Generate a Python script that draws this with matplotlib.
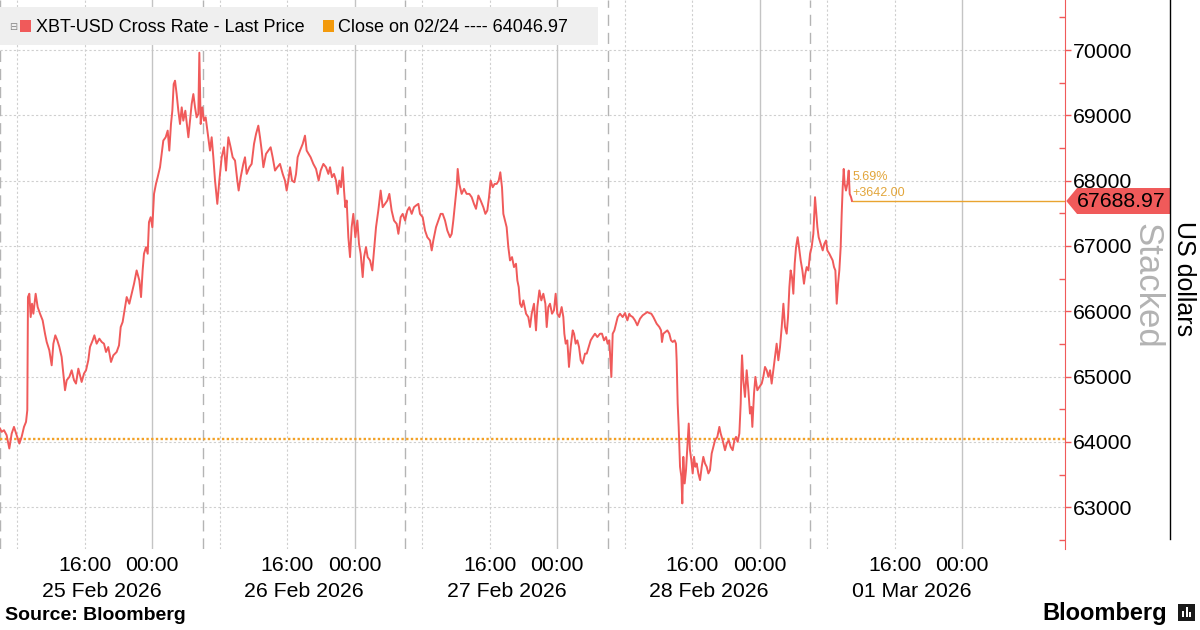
import matplotlib
matplotlib.use('Agg')
import matplotlib.pyplot as plt
import matplotlib.dates as mdates
import matplotlib.transforms as mtransforms
from matplotlib.patches import Polygon, Rectangle
from matplotlib.lines import Line2D
import numpy as np
import pandas as pd

plt.rcParams['font.family'] = ['Liberation Sans', 'DejaVu Sans']

# --- data: XBT-USD last price, hours counted from 25 Feb 2026 00:00 ---
START = pd.Timestamp('2026-02-25 00:00')

# 25 Feb morning -> 26 Feb early
seg1_hours = [5.99, 6.18, 6.46, 6.77, 7.09, 7.37, 7.64, 7.96, 8.28, 8.55,
              8.83, 9.07, 9.22, 9.30, 9.46, 9.62, 9.78, 9.94, 10.21, 10.45,
              10.73, 11.04, 11.32, 11.52, 11.83, 12.11, 12.31, 12.54, 12.78, 13.02,
              13.29, 13.69, 13.89, 14.20, 14.48, 14.76, 14.99, 15.27, 15.47, 15.66,
              15.94, 16.18, 16.45, 16.65, 16.97, 17.17, 17.44, 17.76, 18.04, 18.31,
              18.55, 18.82, 19.14, 19.42, 19.81, 20.09, 20.29, 20.52, 20.80, 21.00,
              21.31, 21.59, 21.87, 22.18, 22.50, 22.70, 22.89, 23.05, 23.29, 23.49,
              23.64, 23.84, 24.04, 24.24, 24.47, 24.67, 24.95, 25.14, 25.34, 25.62,
              25.86, 26.05, 26.25, 26.41, 26.57, 26.73, 26.92, 27.12, 27.32, 27.52,
              27.71, 27.95, 28.11, 28.31, 28.50, 28.70, 28.90, 29.10, 29.29, 29.49,
              29.61, 29.77, 29.96, 30.16, 30.36, 30.56, 30.87]
seg1_price = [64205, 64154, 64179, 64103, 63899, 64128, 64230, 64103, 63975, 64077,
              64230, 64307, 64485, 66218, 66269, 65912, 66116, 65963, 66269, 66065,
              65963, 65861, 65657, 65530, 65403, 65173, 65504, 65632, 65555, 65453,
              65301, 64791, 64944, 64995, 65097, 64944, 64893, 65122, 65020, 64918,
              65046, 65097, 65250, 65453, 65555, 65632, 65504, 65581, 65530, 65504,
              65377, 65453, 65224, 65326, 65377, 65479, 65759, 65836, 66065, 66218,
              66116, 66269, 66422, 66626, 66473, 66218, 66626, 66881, 66983, 66881,
              67365, 67441, 67288, 67798, 67951, 68053, 68206, 68410, 68614, 68665,
              68767, 68461, 68868, 69072, 69480, 69531, 69327, 69072, 68868, 69123,
              68919, 69072, 68894, 68665, 68919, 69174, 69327, 69123, 68970, 69021,
              69960, 68868, 69123, 68919, 68970, 68767, 68461]

# 26 Feb -> 27 Feb early
seg2_hours = [31.07, 31.27, 31.47, 31.74, 31.98, 32.26, 32.53, 32.77, 33.05, 33.32,
              33.56, 33.84, 34.11, 34.27, 34.51, 34.82, 35.02, 35.22, 35.54, 35.81,
              36.09, 36.33, 36.60, 36.80, 37.00, 37.20, 37.51, 37.79, 38.06, 38.30,
              38.58, 38.85, 39.17, 39.49, 39.76, 39.96, 40.16, 40.36, 40.59, 40.87,
              41.07, 41.26, 41.54, 41.86, 42.13, 42.33, 42.57, 42.80, 43.12, 43.44,
              43.75, 43.99, 44.31, 44.62, 44.90, 45.10, 45.33, 45.57, 45.81, 46.01,
              46.20, 46.40, 46.60, 46.76, 46.91, 47.07, 47.27, 47.47, 47.66, 47.86,
              48.10, 48.34, 48.53, 48.73, 48.97, 49.13, 49.36, 49.56, 49.84, 50.11,
              50.31, 50.55, 50.82, 51.10, 51.34, 51.62, 51.89, 52.13, 52.40, 52.68,
              53.00, 53.20, 53.47, 53.71, 53.99, 54.26, 54.50, 54.78, 55.05, 55.29,
              55.57]
seg2_price = [68665, 68359, 68002, 67645, 68002, 68359, 68512, 68155, 68665, 68512,
              68359, 68308, 68002, 67849, 68053, 68257, 68359, 68104, 68206, 68257,
              68563, 68716, 68843, 68665, 68461, 68206, 68410, 68461, 68512, 68359,
              68155, 68206, 68257, 68104, 68002, 67849, 68002, 68206, 68002, 67976,
              68104, 68359, 68461, 68563, 68690, 68461, 68410, 68359, 68257, 68180,
              68002, 68155, 68257, 68206, 68104, 68206, 68053, 68104, 68002, 67798,
              68002, 67900, 68206, 67849, 67594, 67696, 67135, 66830, 67288, 67492,
              67135, 67390, 67033, 66881, 66524, 66830, 66983, 66830, 66779, 66626,
              66932, 67288, 67543, 67849, 67594, 67645, 67696, 67798, 67543, 67390,
              67339, 67186, 67441, 67492, 67390, 67543, 67594, 67492, 67594, 67620,
              67645]

# 27 Feb -> 28 Feb early
seg3_hours = [55.76, 56.08, 56.36, 56.63, 56.95, 57.15, 57.34, 57.66, 57.94, 58.21,
              58.45, 58.73, 59.00, 59.32, 59.52, 59.71, 59.91, 60.11, 60.23, 60.42,
              60.70, 60.98, 61.29, 61.61, 61.89, 62.16, 62.40, 62.68, 62.95, 63.27,
              63.51, 63.74, 63.94, 64.14, 64.38, 64.61, 64.85, 65.09, 65.28, 65.48,
              65.64, 65.84, 66.03, 66.23, 66.43, 66.67, 66.90, 67.14, 67.30, 67.46,
              67.62, 67.81, 68.01, 68.33, 68.60, 68.80, 69.00, 69.27, 69.51, 69.67,
              69.91, 70.14, 70.38, 70.62, 70.78, 70.97, 71.17, 71.41, 71.64, 71.84,
              72.04, 72.28, 72.55, 72.75, 72.87, 73.03, 73.22, 73.42, 73.62, 73.86,
              74.02, 74.21, 74.41, 74.61, 74.81, 75.04, 75.32, 75.52, 75.75, 75.99,
              76.23, 76.50, 76.78, 77.10, 77.33, 77.57, 77.81, 78.00, 78.20, 78.44,
              78.60, 78.80, 78.99, 79.19, 79.47, 79.78, 80.06, 80.34, 80.57]
seg3_price = [67492, 67441, 67237, 67135, 67084, 66932, 67084, 67288, 67390, 67492,
              67492, 67390, 67237, 67135, 67186, 67390, 67645, 67900, 68180, 67951,
              67798, 67875, 67798, 67798, 67747, 67645, 67569, 67773, 67696, 67594,
              67492, 67543, 67747, 68002, 67900, 67951, 67951, 68002, 68129, 67900,
              67492, 67390, 67288, 66983, 66779, 66830, 66677, 66728, 66473, 66371,
              66116, 66065, 66167, 65963, 65912, 65759, 65963, 66116, 65708, 66065,
              66320, 66167, 66269, 66116, 65759, 66065, 66116, 65963, 66014, 66269,
              65963, 65912, 66065, 65912, 65657, 65504, 65555, 65148, 65453, 65708,
              65657, 65504, 65555, 65453, 65250, 65199, 65352, 65352, 65453, 65555,
              65606, 65657, 65606, 65657, 65657, 65555, 65606, 65504, 65555, 64995,
              65657, 65708, 65810, 65912, 65963, 65912, 65973, 65861, 65963]

# 28 Feb -> 01 Mar morning
seg4_hours = [80.65, 80.97, 81.24, 81.52, 81.84, 82.15, 82.43, 82.71, 82.94, 83.18,
              83.42, 83.62, 83.81, 84.13, 84.33, 84.44, 84.60, 84.84, 85.08, 85.31,
              85.51, 85.71, 85.95, 86.10, 86.18, 86.30, 86.42, 86.58, 86.74, 86.85,
              86.97, 87.13, 87.29, 87.45, 87.61, 87.76, 87.92, 88.08, 88.24, 88.40,
              88.55, 88.75, 88.95, 89.15, 89.34, 89.54, 89.74, 89.94, 90.13, 90.33,
              90.53, 90.73, 91.00, 91.24, 91.40, 91.63, 91.91, 92.11, 92.35, 92.58,
              92.82, 93.02, 93.22, 93.41, 93.61, 93.77, 93.85, 93.93, 94.08, 94.28,
              94.48, 94.68, 94.87, 95.03, 95.15, 95.35, 95.51, 95.74, 95.98, 96.26,
              96.45, 96.65, 96.85, 97.05, 97.25, 97.44, 97.64, 97.88, 98.03, 98.23,
              98.43, 98.63, 98.83, 99.02, 99.22, 99.38, 99.54, 99.69, 99.85, 100.01,
              100.17, 100.33, 100.52, 100.68, 100.88, 101.08, 101.27, 101.43, 101.59, 101.79,
              101.99, 102.18, 102.38, 102.58, 102.70, 102.86, 103.01, 103.25, 103.49, 103.68,
              103.88, 104.04, 104.28, 104.47, 104.67, 104.83, 104.99, 105.15, 105.31, 105.46,
              105.62, 105.74, 105.86, 105.98, 106.09, 106.25, 106.41, 106.57, 106.69, 106.85,
              106.96]
seg4_price = [65938, 65912, 65861, 65785, 65887, 65938, 65963, 65989, 65973, 65963,
              65912, 65861, 65810, 65759, 65708, 65530, 65657, 65683, 65708, 65657,
              65555, 65530, 65555, 65504, 65250, 64587, 64230, 63619, 63466, 63058,
              63771, 63364, 63568, 63924, 64281, 63873, 63720, 63517, 63771, 63619,
              63670, 63517, 63415, 63619, 63771, 63670, 63619, 63517, 63568, 63822,
              63924, 64026, 64077, 64230, 64128, 64026, 63873, 63975, 64026, 63924,
              63873, 64026, 64077, 64001, 64128, 64587, 65046, 65326, 64944, 64689,
              65097, 64791, 64434, 64536, 64230, 64743, 64995, 64791, 64842, 64893,
              64995, 65148, 65097, 64995, 65097, 64893, 65097, 65352, 65504, 65250,
              65453, 65759, 66116, 65759, 65657, 65912, 66371, 66626, 66524, 66269,
              66728, 66983, 67135, 66983, 66779, 66626, 66422, 66575, 66677, 66626,
              66881, 66983, 67186, 67747, 67543, 67288, 67135, 67033, 66932, 67033,
              67084, 66932, 66881, 66830, 66779, 66677, 66626, 66116, 66422, 66626,
              66983, 67492, 67900, 68180, 67951, 67849, 67951, 68155, 67798, 67747,
              67688.97]

prev_close = 64046.97
series_label = 'XBT-USD Cross Rate - Last Price'
close_label = 'Close on 02/24 ---- 64046.97'
y_ticks = [63000, 64000, 65000, 66000, 67000, 68000, 69000, 70000]

hours = np.concatenate([seg1_hours, seg2_hours, seg3_hours, seg4_hours])
price = np.concatenate([seg1_price, seg2_price, seg3_price, seg4_price])
times = START + pd.to_timedelta(hours, unit='h')

RED = '#f05a5a'
ORANGE = '#f2a127'

W, H = 1200, 630
def fx(px):
    return px / W
def fy(py):
    return 1 - py / H

fig = plt.figure(figsize=(12, 6.3), dpi=100)
ax = fig.add_axes([0, fy(549), fx(1064.7), 549 / H])

x_lo = START + pd.Timedelta(hours=5.985)
x_hi = START + pd.Timedelta(hours=132.17)
ax.set_xlim(x_lo, x_hi)
ax.set_ylim(62360, 70767)

# vertical session grid: 00:00 solid, 06:00 dashed, 08:00/16:00 dotted
for t in pd.date_range('2026-02-25 06:00', '2026-03-02 00:00', freq='h'):
    if t.hour == 0:
        ax.axvline(t, color='#c4c4c4', lw=1.0, zorder=1)
    elif t.hour == 6:
        ax.axvline(t, color='#b4b4b4', lw=1.0, ls=(0, (8, 5)), zorder=1)
    elif t.hour in (8, 16):
        ax.axvline(t, color='#cfcfcf', lw=0.8, ls=(0, (2, 2)), zorder=1)

ax.set_yticks(y_ticks)
ax.set_yticks(np.arange(62500, 70600, 1000), minor=True)
ax.yaxis.grid(True, which='major', color='#cfcfcf', lw=0.8, ls=(0, (2, 2)))
ax.set_axisbelow(True)

ax.axhline(prev_close, color=ORANGE, lw=1.7, ls=(0, (1, 1)), zorder=2)
ax.plot(times, price, color=RED, lw=1.4, zorder=3)

last_t, last_p = times[-1], price[-1]
ax.hlines(last_p, last_t, x_hi, color='#e9a430', lw=1.0, zorder=2)
change = last_p - prev_close
ax.annotate(f'{change / prev_close * 100:.2f}%', xy=(last_t, last_p), xytext=(1, 24),
            textcoords='offset pixels', color='#e2a53a', fontsize=9, va='center', ha='left')
ax.annotate(f'+{change:.2f}', xy=(last_t, last_p), xytext=(0, 8),
            textcoords='offset pixels', color='#e2a53a', fontsize=9, va='center', ha='left')

# price tag on the right axis
blend = mtransforms.blended_transform_factory(ax.transAxes, ax.transData)
hh = 199
tag = Polygon([(1.0015, last_p), (1.0116, last_p + hh), (1.0989, last_p + hh),
               (1.0989, last_p - hh), (1.0116, last_p - hh)], closed=True,
              transform=blend, facecolor=RED, edgecolor='none', clip_on=False, zorder=5)
ax.add_patch(tag)
ax.text(1.0535, last_p, f'{last_p:.2f}', transform=blend, ha='center', va='center',
        fontsize=15.3, color='black', clip_on=False, zorder=6)

# axes styling
for side in ('left', 'top', 'bottom'):
    ax.spines[side].set_visible(False)
ax.spines['right'].set_color(RED)
ax.yaxis.tick_right()
ax.tick_params(axis='y', which='major', direction='out', length=4, width=1, color=RED,
               labelsize=15.3, pad=2)
ax.tick_params(axis='y', which='minor', direction='in', length=4, width=1, color=RED)

ax.xaxis.set_major_locator(mdates.HourLocator(byhour=[0, 16]))
ax.xaxis.set_major_formatter(mdates.DateFormatter('%H:%M'))
ax.xaxis.set_minor_locator(mdates.HourLocator(byhour=[18]))
ax.xaxis.set_minor_formatter(mdates.DateFormatter('%d %b %Y'))
ax.tick_params(axis='x', which='major', length=0, labelsize=15.3, pad=5)
ax.tick_params(axis='x', which='minor', length=0, labelsize=15.3, pad=24)

# legend strip
fig.add_artist(Rectangle((0, fy(45)), fx(598), 38 / H, transform=fig.transFigure,
                         facecolor='#efefef', edgecolor='none', zorder=4))
fig.text(fx(13), fy(27), '\u229f', fontsize=7, color='#888888', ha='center', va='center',
         family=['DejaVu Sans'], zorder=5)
fig.add_artist(Rectangle((fx(20), fy(32)), fx(11), 12 / H, transform=fig.transFigure,
                         facecolor=RED, edgecolor='none', zorder=5))
fig.text(fx(36), fy(27), series_label, fontsize=13, va='center', ha='left', zorder=5)
fig.add_artist(Rectangle((fx(323), fy(32)), fx(11), 12 / H, transform=fig.transFigure,
                         facecolor='#f39a0c', edgecolor='none', zorder=5))
fig.text(fx(338), fy(27), close_label, fontsize=13, va='center', ha='left', zorder=5)

# right side labels
fig.text(fx(1147), fy(286), 'Stacked', rotation=270, fontsize=25, color='#b3b3b3',
         ha='center', va='center')
fig.text(fx(1184), fy(279), 'US dollars', rotation=270, fontsize=18, color='black',
         ha='center', va='center')
fig.add_artist(Line2D([fx(1170), fx(1170)], [fy(0), fy(539)], color='black', lw=1.0))

# footer
fig.text(fx(5), fy(615), 'Source: Bloomberg', fontsize=14, fontweight='bold',
         ha='left', va='center')
fig.text(fx(1167), fy(620), 'Bloomberg', fontsize=17, fontweight='bold',
         ha='right', va='baseline')
fig.add_artist(Rectangle((fx(1178), fy(621)), fx(17), 17 / H, transform=fig.transFigure,
                         facecolor='#1a1a1a', edgecolor='none'))
for bx, bh in zip((1182, 1185.5, 1189), (6, 10, 5)):
    fig.add_artist(Rectangle((fx(bx), fy(617)), fx(2.2), bh / H, transform=fig.transFigure,
                             facecolor='white', edgecolor='none'))

fig.savefig('out.png', dpi=100, facecolor='white')
